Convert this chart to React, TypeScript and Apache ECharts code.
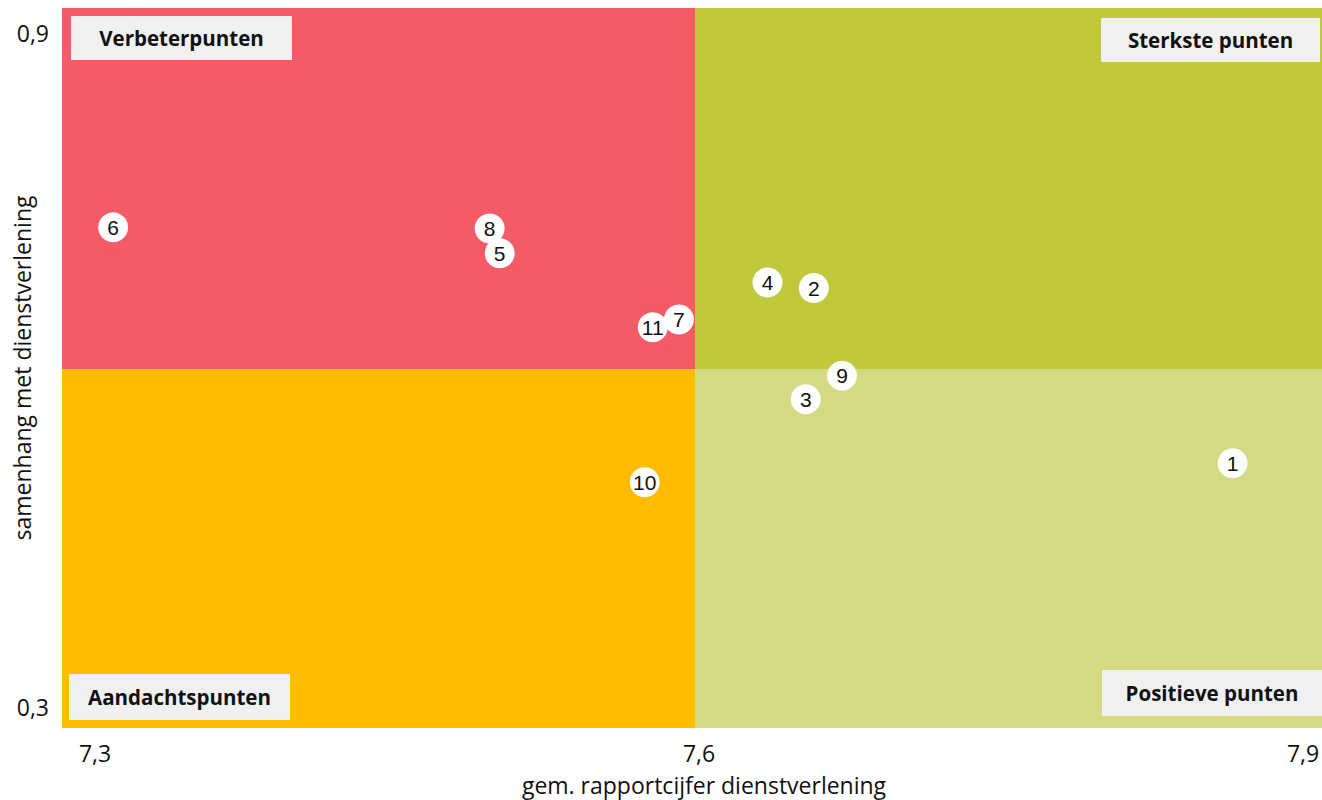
import React, { useEffect, useRef } from "react";
import * as echarts from "echarts";

// Items (numbered) with average report mark (x) and correlation (y)
const itemLabels = ["1", "2", "3", "4", "5", "6", "7", "8", "9", "10", "11"];
const rapportcijfer = [7.865, 7.657, 7.653, 7.634, 7.501, 7.309, 7.59, 7.496, 7.671, 7.573, 7.577];
const samenhang = [0.517, 0.673, 0.574, 0.678, 0.704, 0.727, 0.645, 0.726, 0.595, 0.5, 0.638];

// Axis settings
const xMin = 7.2836;
const xMax = 7.9094;
const yMin = 0.2813;
const yMax = 0.9223;
const xTicks = [7.3, 7.6, 7.9];
const yTicks = [0.3, 0.9];
const xSplit = 7.598;
const ySplit = 0.601;

const quadrantNames = ["Verbeterpunten", "Sterkste punten", "Aandachtspunten", "Positieve punten"];

const RED = "#F45B69";
const GREEN = "#C0C93C";
const LIGHTGREEN = "#D4D984";
const ORANGE = "#FFBC00";
const FONT = "'Open Sans', sans-serif";

export default function App() {
  const ref = useRef<HTMLDivElement>(null);
  useEffect(() => {
    document.body.style.margin = "0";
    const chart = echarts.init(ref.current!, null, { renderer: "svg" });
    const fmt = (v: number) => String(Math.round(v * 10) / 10).replace(".", ",");
    const data = itemLabels.map((l, i) => ({ value: [rapportcijfer[i], samenhang[i]], name: l }));
    const boxText = (x: number, y: number, w: number, h: number, text: string) => ({
      type: "group",
      z: 100,
      children: [
        { type: "rect", shape: { x, y, width: w, height: h }, style: { fill: "#F0F0F0" }, z: 100 },
        {
          type: "text",
          x: x + w / 2,
          y: y + h / 2,
          z: 101,
          style: {
            text,
            fill: "#111",
            font: "bold 20.5px 'Open Sans', sans-serif",
            align: "center",
            verticalAlign: "middle",
          },
        },
      ],
    });
    chart.setOption({
      animation: false,
      grid: { left: 62, right: 0, top: 8, bottom: 72, containLabel: false, outerBoundsMode: "none" },
      xAxis: {
        type: "value",
        min: xMin,
        max: xMax,
        axisLine: { show: false },
        axisTick: { show: false },
        splitLine: { show: false },
        axisLabel: {
          customValues: xTicks,
          formatter: fmt,
          fontFamily: FONT,
          fontSize: 23,
          color: "#111",
          margin: 13,
        },
        name: "gem. rapportcijfer dienstverlening",
        nameLocation: "middle",
        nameGap: 45,
        nameMoveOverlap: false,
        nameTextStyle: { fontFamily: FONT, fontSize: 23, color: "#111", padding: [0, 0, 0, 24] },
      },
      yAxis: {
        type: "value",
        min: yMin,
        max: yMax,
        axisLine: { show: false },
        axisTick: { show: false },
        splitLine: { show: false },
        axisLabel: {
          customValues: yTicks,
          formatter: fmt,
          fontFamily: FONT,
          fontSize: 23,
          color: "#111",
          margin: 13,
        },
        name: "samenhang met dienstverlening",
        nameLocation: "middle",
        nameGap: 29,
        nameMoveOverlap: false,
        nameTextStyle: { fontFamily: FONT, fontSize: 23, color: "#111" },
      },
      series: [
        {
          type: "scatter",
          symbol: "circle",
          symbolSize: 30,
          itemStyle: { color: "#FFFFFF", opacity: 1 },
          data,
          z: 10,
          label: {
            show: true,
            position: "inside",
            formatter: (p: any) => p.name,
            fontFamily: "'Liberation Sans', Arial, sans-serif",
            fontSize: 21,
            color: "#111",
          },
          markArea: {
            silent: true,
            z: 1,
            data: [
              [
                { xAxis: xMin, yAxis: ySplit, itemStyle: { color: RED } },
                { xAxis: xSplit, yAxis: yMax },
              ],
              [
                { xAxis: xSplit, yAxis: ySplit, itemStyle: { color: GREEN } },
                { xAxis: xMax, yAxis: yMax },
              ],
              [
                { xAxis: xMin, yAxis: yMin, itemStyle: { color: ORANGE } },
                { xAxis: xSplit, yAxis: ySplit },
              ],
              [
                { xAxis: xSplit, yAxis: yMin, itemStyle: { color: LIGHTGREEN } },
                { xAxis: xMax, yAxis: ySplit },
              ],
            ],
            itemStyle: { opacity: 1 },
          },
        },
      ],
      graphic: [
        boxText(71, 16, 221, 44, quadrantNames[0]),
        boxText(1101, 18, 219, 44, quadrantNames[1]),
        boxText(69, 674, 221, 46, quadrantNames[2]),
        boxText(1102, 670, 220, 46, quadrantNames[3]),
      ],
    });
    return () => chart.dispose();
  }, []);
  return <div ref={ref} style={{ width: 1322, height: 800 }} />;
}
